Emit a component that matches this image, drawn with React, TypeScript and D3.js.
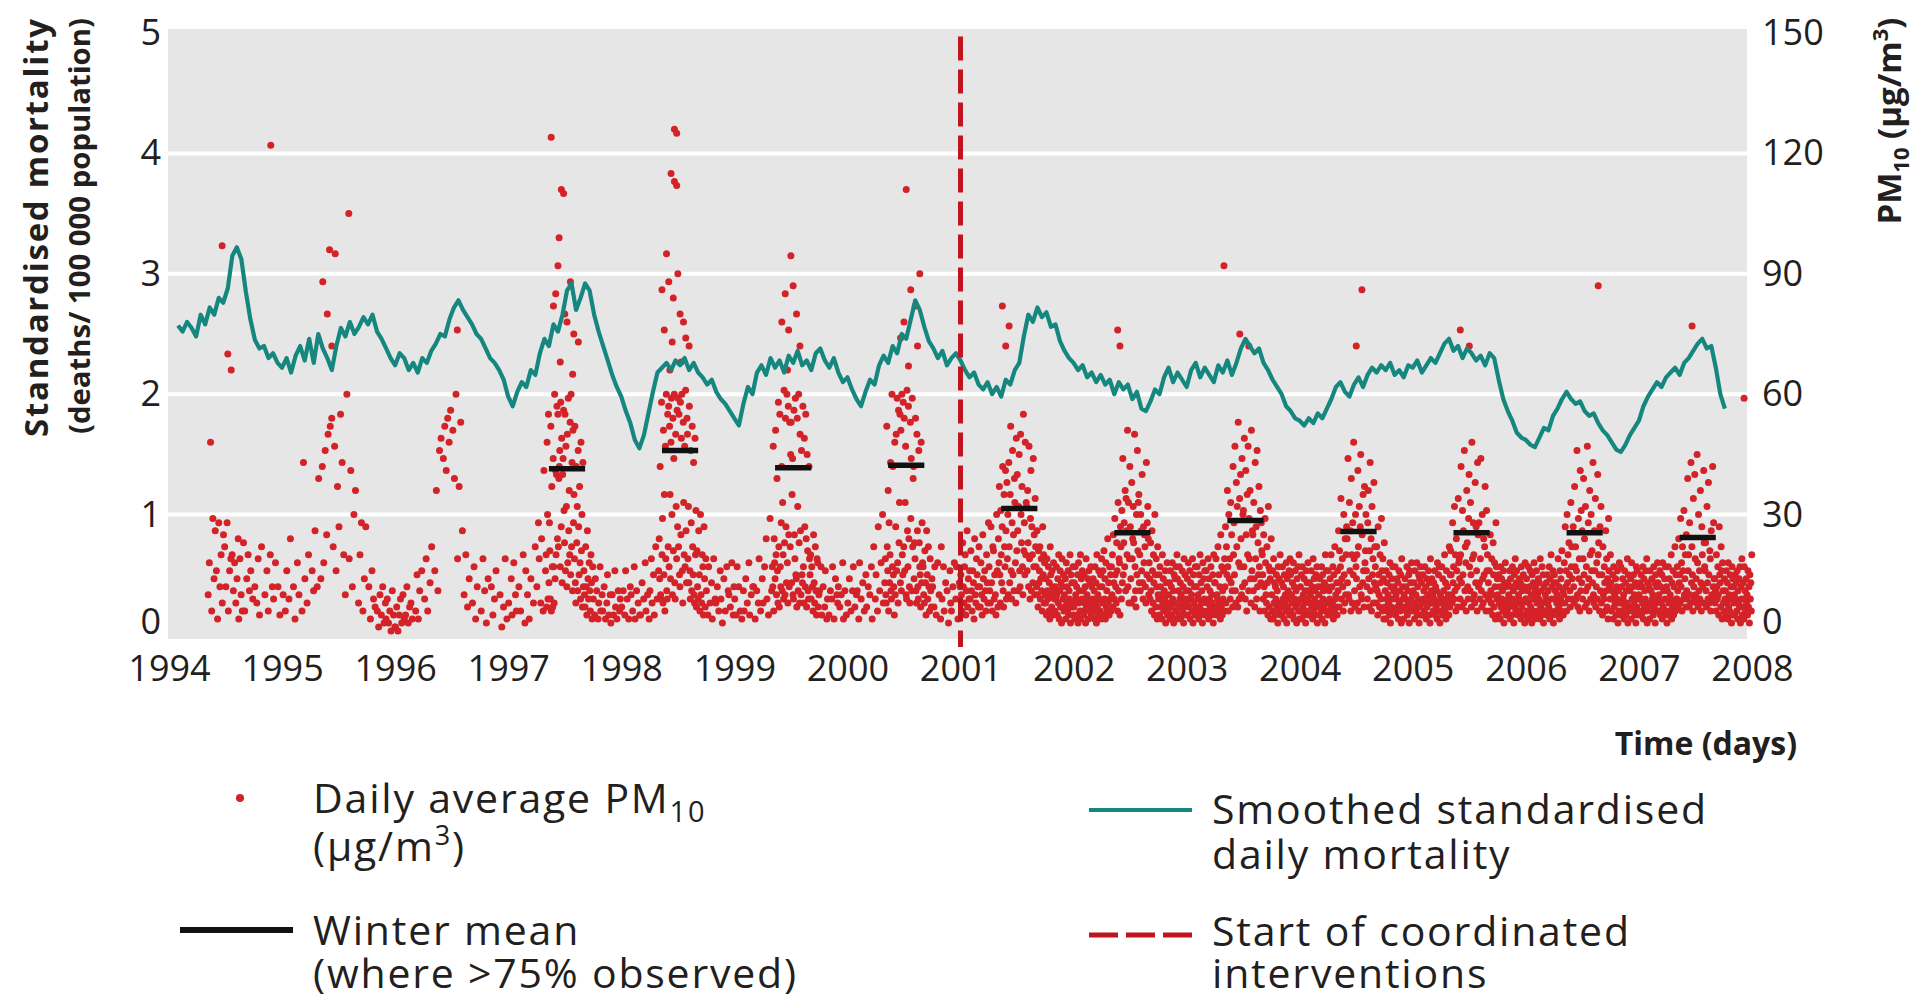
import React, { useEffect, useRef } from 'react';
import * as d3 from 'd3';

// ---- axes ----
const yearTicks = d3.range(1994, 2009);
const mortTicks = [0, 1, 2, 3, 4, 5];
const pmTicks = [0, 30, 60, 90, 120, 150];

// ---- smoothed standardised daily mortality (deaths/100 000), every 0.04 yr from 1994.08 ----
const mortStart = 1994.08;
const mortStep = 0.04;
const mort1994 = [2.57, 2.52, 2.60, 2.55, 2.48, 2.66, 2.58, 2.72, 2.66, 2.80, 2.76, 2.88, 3.15, 3.22, 3.12, 2.85, 2.62, 2.45, 2.38, 2.40, 2.30, 2.34, 2.26];
const mort1995 = [2.22, 2.30, 2.18, 2.32, 2.40, 2.28, 2.46, 2.26, 2.50, 2.38, 2.30, 2.20, 2.40, 2.55, 2.48, 2.60, 2.50, 2.56, 2.64, 2.58, 2.66, 2.52, 2.46, 2.38, 2.30];
const mort1996 = [2.24, 2.34, 2.30, 2.20, 2.26, 2.18, 2.30, 2.26, 2.36, 2.42, 2.50, 2.48, 2.62, 2.72, 2.78, 2.70, 2.64, 2.58, 2.50, 2.46, 2.38, 2.30, 2.26, 2.20, 2.12];
const mort1997 = [1.98, 1.90, 2.02, 2.10, 2.06, 2.20, 2.16, 2.34, 2.46, 2.40, 2.58, 2.52, 2.66, 2.86, 2.92, 2.70, 2.80, 2.92, 2.86, 2.66, 2.52, 2.40, 2.28, 2.16, 2.06];
const mort1998 = [1.98, 1.86, 1.76, 1.62, 1.55, 1.66, 1.84, 2.02, 2.18, 2.22, 2.26, 2.20, 2.28, 2.24, 2.30, 2.20, 2.26, 2.18, 2.14, 2.08, 2.12, 2.02, 1.96, 1.92, 1.86];
const mort1999 = [1.80, 1.74, 1.92, 2.06, 2.00, 2.18, 2.24, 2.16, 2.30, 2.22, 2.28, 2.18, 2.32, 2.26, 2.36, 2.24, 2.28, 2.20, 2.34, 2.38, 2.28, 2.22, 2.30, 2.18, 2.10];
const mort2000 = [2.14, 2.04, 1.96, 1.90, 2.02, 2.12, 2.08, 2.24, 2.32, 2.26, 2.40, 2.34, 2.50, 2.46, 2.62, 2.78, 2.70, 2.56, 2.44, 2.38, 2.30, 2.36, 2.24, 2.30, 2.34];
const mort2001 = [2.28, 2.20, 2.14, 2.18, 2.08, 2.04, 2.10, 2.00, 2.06, 1.98, 2.12, 2.08, 2.20, 2.26, 2.48, 2.66, 2.60, 2.72, 2.64, 2.68, 2.56, 2.58, 2.44, 2.36, 2.30];
const mort2002 = [2.26, 2.20, 2.24, 2.14, 2.18, 2.10, 2.16, 2.08, 2.12, 2.00, 2.10, 2.04, 2.08, 1.96, 2.02, 1.88, 1.86, 1.94, 2.04, 2.00, 2.14, 2.22, 2.10, 2.18, 2.12];
const mort2003 = [2.06, 2.20, 2.26, 2.14, 2.22, 2.16, 2.10, 2.24, 2.18, 2.28, 2.16, 2.26, 2.38, 2.46, 2.40, 2.34, 2.38, 2.26, 2.20, 2.12, 2.06, 2.00, 1.90, 1.86, 1.80];
const mort2004 = [1.78, 1.74, 1.80, 1.76, 1.84, 1.80, 1.88, 1.96, 2.06, 2.10, 2.02, 1.98, 2.08, 2.14, 2.06, 2.16, 2.22, 2.18, 2.24, 2.20, 2.26, 2.16, 2.20, 2.14, 2.24];
const mort2005 = [2.22, 2.28, 2.18, 2.24, 2.30, 2.26, 2.34, 2.42, 2.46, 2.36, 2.40, 2.30, 2.38, 2.34, 2.28, 2.32, 2.24, 2.34, 2.30, 2.12, 1.96, 1.86, 1.78, 1.68, 1.64];
const mort2006 = [1.62, 1.58, 1.56, 1.64, 1.72, 1.70, 1.82, 1.88, 1.96, 2.02, 1.96, 1.92, 1.94, 1.86, 1.82, 1.84, 1.76, 1.70, 1.66, 1.60, 1.54, 1.52, 1.58, 1.66, 1.72];
const mort2007 = [1.78, 1.90, 1.98, 2.04, 2.10, 2.06, 2.14, 2.18, 2.22, 2.16, 2.26, 2.30, 2.36, 2.42, 2.46, 2.38, 2.40, 2.22, 2.00, 1.88];

// ---- daily PM10 (ug/m3): one string per month, one char per reading, value = index in PM_CODE, '.' = no reading ----
const PM_CODE = '0123456789abcdefghijklmnopqrstuvwxyzABCDEFGHIJKLMNOPQRSTUVWXYZ';
const pm1994 = ['', '', '', '', '..a.i.M.6.t.e.q.', 'g.4.s.c.k.8.p.m.', 'c.s.6.g.j.k.b.i', '.8.e.o4.j.a.6.n.', '6..e.k.b.g..9.', '.c..8.j.5..m..', '..a..g.6..k..c', '.9..i...c..5...'];
const pm1995 = ['.a..6.g..9.o.', '..c.4..i.a..', '.6.H.e..8.k..', '..g.b.q..c.D.', '.e.G.i.K.p.O.', '.Q.S.m.L.g.B.', 'r.T.H.k.a.Y.', '.j.F.c.u.A..', '.8.k.s.6.e.r.', '..c.4.g.9.7.', '.6.2.a.5.c.3.8', '4.9.3.6.1.b.5.2'];
const pm1996 = ['2.7.1.5.9.3.a.4', '.5.c.3.7.8.4..', '..6.f.4.b..g..', '.9.j.6..d.m.', '..g.A.b.K.N.', '.I.Q.F.S.M.U.', '.P.D.Y.j.B.R', '.q.a.k.7.e.', '..8.h.4.c...', '.6.j.b.3.e.', '..c.5.9.g...', '.a.2.7.j.4.'];
const pm1997 = ['8..e5.i.a6.', '.c.6..k.3g.', 'a.4.e..8.m.', 'c.sj.8o.6F.g', 'k7Mu9Tdsl9Q6Bh7Ih8Ye', 'FkEVoTmDGKhWrNdEIUvn', 'TgLwcOiXqAkRfYmHbPsz', 'jQd8GnwbKrfBi9Mlu7Hc', 'ga7mc5qe9ib6kd4h', '9.5e.b.48.h6.a', '6.c.4.8f.5.a3.', 'a.5.g7.4.b.69.'];
const pm1998 = ['7.b.5g.9.4.c', 'a.6.h4.b.8.5', '5.d.9.i6.a.4', 'b.j8.f5.m.9.g', 'oeGa9Wkt8Pfz6LjYb9Tm', 'VhQzeMXuaSlIYd9OwjUr', 'XmTfcWpNYg8RxkLhZqdS', 'OjwdVg9KsbQmfHa8Nkv7', 'lc9qf6ua8kh5re7j', 'b.5h.8.d4.j.9', '8.c.6.g9.3.e.', '6.h.ba.7.i.5c'];
const pm1999 = ['9.5h.c.6.4.b', '6.e.8.i5.a.c', 'c.4.b.8j.6.e', '8.h.o9.5.t.b', 'hcL6oiePkaDg8Wm7Thcs', 'Gbxk9ZnaSrdYi8VpcRmJ', 'RdzIa9UpjXfe7SwbYn8O', 'qaKfdVh8NrcTo7Jlb9Gj', 'fk9hc6pd8mb5ji7a', 'b.h5.c.7g.49.', '5.b.9h.4.e.a8', 'c.7.a.i4.b.5.'];
const pm2000 = ['8.e.6.bh.7.a', 'b.4i.9.d.6.f', '7.c.a.h4.m.9', 'f.6r.b.i.u8.d', 'ja8QmgA6sdkHb9YhGfc5', 'MarOgXi8UnxTdPbYkfWm', 'SgxLa9ZqhVoc8RtIbXmD', 'GenjSb8Oqc9Knhf7Mdsi', 'ha8ld5qf9mc6jb7e', 'c.7h.5.i.a.4m', '9.h6.d.b.3.g8', '6.c.i.9h.4.dc'];
const pm2001 = ['fa6nc8hk5bq7e9g', '9lb6gd4oa8jfc7m', 'c7ia5pe9gb6kd8s', 'hb8rd6ml9fa5ug7', 'oiBf8vkdrGb7zmhFq9Cj', 'uaHmdzQg9sKfpbDxi8Nl', 'EqbwJgcOunBhaTlsfMkx', 'wgAncLj9tFbrkdIhpaym', 'hcqa7ldgm9ejb6rfk8ia', '8e5jb9h6d4mfa7gc5ib9', '6c9ha5e8k4bg7d3jc9f6', 'a7e4i8c6g5b9k3f7d8h5'];
const pm2002 = ['7d4ha9c5f3i8b6k4e9g6', 'b5f8c3j7a9e4g6d8h5c7', '9e6b4h8d3k7a5g9c6f4j', 'c8g5l9e4i7b6o8d5h9f6', 'hak7pd9tfc8ng6xbji5r', 'm9vdIfnshAbyqkPcx8jG', 're8Cjown9Ohb7ufKlxzd', 'kbuqgEd9ripmc8Hfswoa', 'ie9nb6qg8kd5uf7jc4ma', '9f5hc7a4k8e6b9g3d7i5', '6a8d4g7c5i9b3f8e6h4k', 'e7b5h9d4a8g6c3j7f5b9'];
const pm2003 = ['8e5ib7g4d9a6j3f8c5h7', 'c6h9a4f7k5d8b3i6e9g5', '5g8c6j4e9b7h5a8f3k6d', 'd7j5a9m6f8c4p7h5b9g6', 'jcr8mfAh6uej9xdpb7Gk', 'sfLb8Cmw7Ri9yhEoaIcu', 'vhNd9Fp6zkLbtjAe8Pgq', 'pbxe7Hjr9KcnfBh6vdsl', 'kf9pc6tia8md5wh7ge4o', 'a6g4j8d5c9f7b3h6e8k5', '7d5h9c4f8a6i3e7b9g5j', 'f6a8d5i4c9g7b3e8h6k4'];
const pm2004 = ['6c9f4h7a5e8b3g6d9i5b', 'd8a5g7c4j6e9b5f8h3c7', 'a5e8c6h4f9b7d3k6g8c5', 'g6b9e5k7c8h4f6m9a7d5', 'gbq7ldhy9ejc6uf8oakr', 'odIa9xgq6Dk8sfMjb7uh', 'ek8Fm6wcrJa9pdzg7Bil', 'ugc9sAe7lHbo6wfj8Cdm', 'hc8mb5rfa7kd9tg6je4n', '7b4g9d6a8f5i3c7e9h6b', 'c6h5a9e7d4g8b6f3j7c9', '4a7e9c6h5b8f3g7d9i6a'];
const pm2005 = ['b7d4g8a6i5c9f3e7h5d8', '5f9b6h8c4e7a9g5d3j8b', 'e8a6d9g5c7b4i8f6h3a9', '8h5e9b7k6d4g8c9a5m7f', 'lfa8sdh9wbk6ogc7yije', '9kGd7vfq8Kbmi6Anc9tE', 'hbxf7Mj9ska8Cdrg6Hpc', 'sd9jIb7ue8ofmBa6vgk9', 'd9g6pb8ja5nf7ic4sh9e', 'a5f8c4h7e9b6g3d8i5c7', '6d9a7g4e8c5h9b3f7j6d', 'g8c5a9e6d4h7b8f5c3i9'];
const pm2006 = ['9e6b4h8c5g7a3f9d6i4b', 'c5g8a6e9d4j7b5h8f3c6', '6a9d5f8b7h4e6k9c5g3d', 'f9b6d8a5j7c4g9e6l8b5', 'ai8rcg6udk9nfb7xhme9', 'rc8Bhm9gKa7tej6Fbvdq', '9jDfo7wbh8Lcse6Ak9ug', 'ldHa8qgy7ci9Eknf6rbw', '8f5ma9hd6qbj7e4tgc9k', 'd6b9f4h7a8e5c9g3b6i8', '5h8c6e9a4g7d5b8j3f6c', 'b7e4i9c6f8a5d3h7g9c5'];
const pm2007 = ['a6d9f5c8h4e7b9g6j3d8', '7c4g8b6e9a5h7d3f8c6i', 'd9a6g5c8f4i7b5e9h6c3', 'b5h8e6a9k4d7g5c8m6f9', '9hb7odf8tci6mg9vaek7', 'pb9Dgk7sa8Hdmf6yc9Ej', 'ae8Ji7ubg9Ad6rkc8Fnh', 'gnb7wd9Cf8lj6qa9Gcse', 'e8b6kc9ha5rfd7mg4ib8', '6e9b5g8d4i7a6f9c3h5e', 'c8a5f9d6g4b8e7h3c9j5', '7d4h9b6e8a5g7c3f9d6k'];

// readings above the code range: [decimal year, ug/m3]
const pmPeaks: [number, number][] = [
  [1994.47, 97], [1994.52, 70], [1994.55, 66], [1994.90, 122],
  [1995.36, 88], [1995.40, 80], [1995.42, 96], [1995.44, 72], [1995.47, 95], [1995.59, 105],
  [1996.55, 76],
  [1997.38, 124], [1997.40, 82], [1997.42, 85], [1997.44, 92], [1997.45, 99], [1997.47, 111], [1997.49, 110],
  [1997.50, 80], [1997.52, 78], [1997.55, 88], [1997.58, 75], [1997.62, 73], [1997.46, 68], [1997.57, 65],
  [1998.36, 86], [1998.38, 76], [1998.40, 95], [1998.42, 88], [1998.44, 115], [1998.45, 73], [1998.46, 84],
  [1998.47, 113], [1998.47, 126], [1998.49, 112], [1998.49, 125], [1998.50, 90], [1998.52, 80], [1998.55, 78],
  [1998.57, 74], [1998.60, 72], [1998.43, 66], [1998.53, 68],
  [1999.42, 78], [1999.45, 85], [1999.48, 76], [1999.50, 94.5], [1999.52, 87], [1999.55, 80], [1999.58, 72],
  [1999.47, 66],
  [2000.47, 74], [2000.50, 78], [2000.52, 111], [2000.56, 86], [2000.60, 82], [2000.62, 72], [2000.64, 90],
  [2000.54, 67],
  [2001.37, 82], [2001.40, 72], [2001.43, 77],
  [2002.39, 76], [2002.41, 72],
  [2003.33, 92], [2003.47, 75], [2003.55, 72],
  [2004.50, 72], [2004.55, 86],
  [2005.42, 76], [2005.50, 72],
  [2006.64, 87],
  [2007.47, 77], [2007.93, 59],
];

// winter mean PM10 (where >75% observed)
const winterYears = [1997, 1998, 1999, 2000, 2001, 2002, 2003, 2004, 2005, 2006, 2007];
const winterMeans = [41.4, 46, 41.7, 42.3, 31.5, 25.5, 28.5, 25.8, 25.5, 25.5, 24.3];
const winterFrom = 0.36;
const winterTo = 0.68;

const interventionStart = 2001;

const pmByYear: [number, string[]][] = [
  [1994, pm1994], [1995, pm1995], [1996, pm1996], [1997, pm1997], [1998, pm1998],
  [1999, pm1999], [2000, pm2000], [2001, pm2001], [2002, pm2002], [2003, pm2003],
  [2004, pm2004], [2005, pm2005], [2006, pm2006], [2007, pm2007],
];

const FONT = '"Open Sans", "Noto Sans", sans-serif';
const INK = '#231f20';
const RED = '#d42229';
const TEAL = '#15877f';
const DASH_RED = '#c0141f';

const App = () => {
  const svgRef = useRef<SVGSVGElement>(null);

  useEffect(() => {
    document.body.style.margin = '0';
    const svg = d3.select(svgRef.current);
    svg.selectAll('*').remove();

    const x = d3.scaleLinear().domain([1994, 2008]).range([169, 1752]);
    const yMort = d3.scaleLinear().domain([0, 5]).range([635, 33]);
    const yPm = d3.scaleLinear().domain([0, 150]).range([635, 33]);

    const left = x(1994) - 1;
    const right = x(2008) - 5;
    const top = yMort(5) - 4;
    const bottom = yMort(0) + 4;

    svg.append('rect').attr('width', 1930).attr('height', 1002).attr('fill', '#fff');

    // plot panel + white grid
    svg.append('rect')
      .attr('x', left).attr('y', top)
      .attr('width', right - left).attr('height', bottom - top)
      .attr('fill', '#e6e6e6');
    svg.append('g').selectAll('line')
      .data([1, 2, 3, 4])
      .join('line')
      .attr('x1', left).attr('x2', right)
      .attr('y1', d => yMort(d)).attr('y2', d => yMort(d))
      .attr('stroke', '#fff').attr('stroke-width', 4);

    // daily PM10 points
    const points: { t: number; v: number }[] = [];
    pmByYear.forEach(([yr, months]) => {
      months.forEach((s, m) => {
        const n = s.length;
        for (let i = 0; i < n; i++) {
          const k = PM_CODE.indexOf(s[i]);
          if (k < 0) continue;
          points.push({ t: yr + (m + (i + 0.5) / n) / 12, v: k });
        }
      });
    });
    pmPeaks.forEach(([t, v]) => points.push({ t, v }));

    svg.append('g').selectAll('circle')
      .data(points)
      .join('circle')
      .attr('cx', d => x(d.t))
      .attr('cy', d => yPm(d.v))
      .attr('r', 3.5)
      .attr('fill', RED);

    // smoothed mortality
    const mort = [
      ...mort1994, ...mort1995, ...mort1996, ...mort1997, ...mort1998, ...mort1999, ...mort2000,
      ...mort2001, ...mort2002, ...mort2003, ...mort2004, ...mort2005, ...mort2006, ...mort2007,
    ];
    const line = d3.line<number>()
      .x((d, i) => x(mortStart + i * mortStep))
      .y(d => yMort(d));
    svg.append('path')
      .datum(mort)
      .attr('fill', 'none')
      .attr('stroke', TEAL)
      .attr('stroke-width', 4.2)
      .attr('stroke-linejoin', 'round')
      .attr('d', line);

    // winter means
    svg.append('g').selectAll('line')
      .data(winterYears)
      .join('line')
      .attr('x1', d => x(d + winterFrom))
      .attr('x2', d => x(d + winterTo))
      .attr('y1', (d, i) => yPm(winterMeans[i]))
      .attr('y2', (d, i) => yPm(winterMeans[i]))
      .attr('stroke', '#111').attr('stroke-width', 5.5);

    // intervention start
    svg.append('line')
      .attr('x1', x(interventionStart)).attr('x2', x(interventionStart))
      .attr('y1', yMort(4.97)).attr('y2', bottom + 8)
      .attr('stroke', DASH_RED).attr('stroke-width', 5)
      .attr('stroke-dasharray', '24 9');

    // axes
    const styleAxis = g => {
      g.select('.domain').remove();
      g.selectAll('text')
        .attr('font-family', FONT)
        .attr('font-size', 36)
        .attr('fill', INK);
    };

    svg.append('g')
      .attr('transform', `translate(0,${bottom})`)
      .call(d3.axisBottom(x).tickValues(yearTicks).tickFormat(d3.format('d')).tickSize(0).tickPadding(16))
      .call(styleAxis);

    svg.append('g')
      .attr('transform', `translate(${left},0)`)
      .call(d3.axisLeft(yMort).tickValues(mortTicks).tickFormat(d3.format('d')).tickSize(0).tickPadding(7))
      .call(styleAxis)
      .call(g => g.selectAll('.tick').filter(d => d === 0).select('text').attr('y', -13));

    svg.append('g')
      .attr('transform', `translate(${right},0)`)
      .call(d3.axisRight(yPm).tickValues(pmTicks).tickFormat(d3.format('d')).tickSize(0).tickPadding(15))
      .call(styleAxis)
      .call(g => g.selectAll('.tick').filter(d => d === 0).select('text').attr('y', -13));

    // axis titles
    const bold = (sel, size) => sel.attr('font-family', FONT).attr('font-weight', 700).attr('font-size', size).attr('fill', INK);

    svg.append('text')
      .attr('transform', 'translate(36,228) rotate(-90)')
      .attr('text-anchor', 'middle').attr('dy', '0.35em')
      .attr('textLength', 418).attr('lengthAdjust', 'spacing')
      .text('Standardised mortality')
      .call(bold, 33);
    svg.append('text')
      .attr('transform', 'translate(80,226) rotate(-90)')
      .attr('text-anchor', 'middle').attr('dy', '0.35em')
      .attr('textLength', 416).attr('lengthAdjust', 'spacingAndGlyphs')
      .text('(deaths/ 100 000 population)')
      .call(bold, 29);

    const rt = svg.append('text')
      .attr('transform', 'translate(1889,121) rotate(-90)')
      .attr('text-anchor', 'middle').attr('dy', '0.35em')
      .call(bold, 33);
    rt.append('tspan').text('PM');
    rt.append('tspan').attr('font-size', 22).attr('dy', 8).text('10');
    rt.append('tspan').attr('dy', -8).text(' (µg/m');
    rt.append('tspan').attr('font-size', 22).attr('dy', -13).text('3');
    rt.append('tspan').attr('dy', 13).text(')');

    svg.append('text')
      .attr('x', 1797).attr('y', 755)
      .attr('text-anchor', 'end')
      .text('Time (days)')
      .call(bold, 32);

    // legend
    const lg = svg.append('g')
      .attr('font-family', FONT).attr('font-size', 41).attr('letter-spacing', 1.8).attr('fill', INK);

    lg.append('circle').attr('cx', 240).attr('cy', 798).attr('r', 4).attr('fill', RED);
    const t1 = lg.append('text').attr('x', 313).attr('y', 813);
    t1.append('tspan').text('Daily average PM');
    t1.append('tspan').attr('font-size', 29).attr('dy', 9).text('10');
    const t2 = lg.append('text').attr('x', 313).attr('y', 861);
    t2.append('tspan').text('(µg/m');
    t2.append('tspan').attr('font-size', 27).attr('dy', -16).text('3');
    t2.append('tspan').attr('dy', 16).text(')');

    lg.append('line').attr('x1', 180).attr('x2', 293).attr('y1', 930).attr('y2', 930)
      .attr('stroke', '#111').attr('stroke-width', 6);
    lg.append('text').attr('x', 313).attr('y', 945).text('Winter mean');
    lg.append('text').attr('x', 313).attr('y', 988).text('(where >75% observed)');

    lg.append('line').attr('x1', 1089).attr('x2', 1192).attr('y1', 810).attr('y2', 810)
      .attr('stroke', TEAL).attr('stroke-width', 4);
    lg.append('text').attr('x', 1212).attr('y', 824).text('Smoothed standardised');
    lg.append('text').attr('x', 1212).attr('y', 869).text('daily mortality');

    lg.append('line').attr('x1', 1089).attr('x2', 1192).attr('y1', 935).attr('y2', 935)
      .attr('stroke', DASH_RED).attr('stroke-width', 5).attr('stroke-dasharray', '29 8');
    lg.append('text').attr('x', 1212).attr('y', 946).text('Start of coordinated');
    lg.append('text').attr('x', 1212).attr('y', 988).text('interventions');
  }, []);

  return (
    <div style={{ position: 'absolute', left: 0, top: 0 }}>
      <svg ref={svgRef} width={1930} height={1002} style={{ display: 'block' }} />
    </div>
  );
};

export default App;
